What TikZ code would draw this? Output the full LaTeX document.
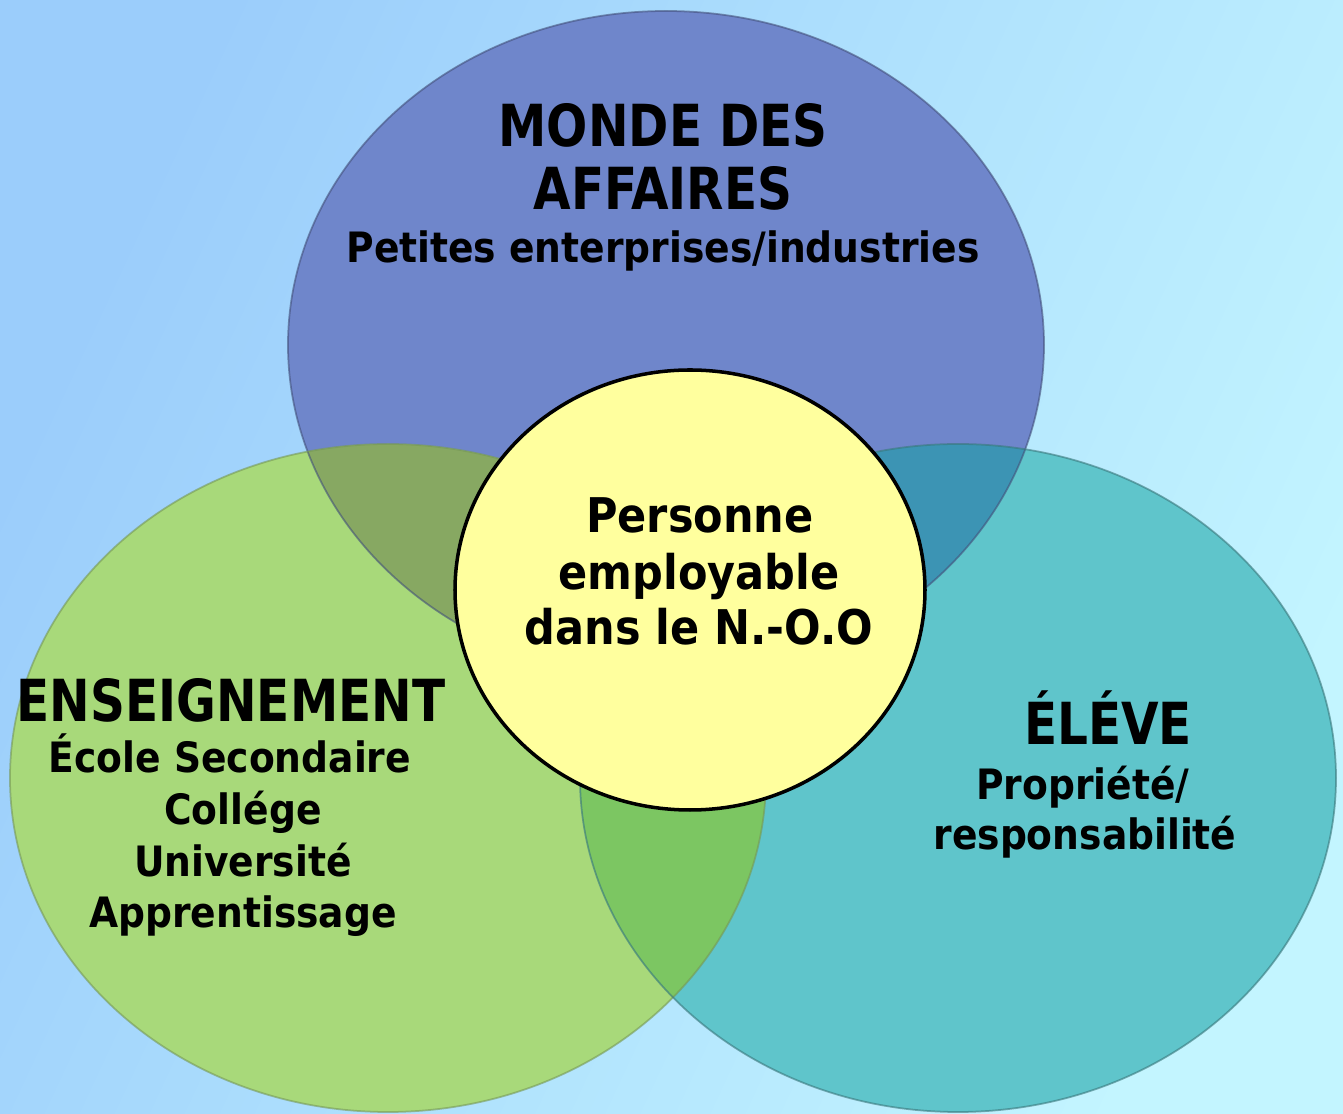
\documentclass[tikz,border=0pt]{standalone}
\usepackage{fontspec}
\newfontfamily\vennfont{DejaVuSansCondensed-Bold.ttf}
\newfontfamily\vennhead{DejaVuSansCondensed-Bold.ttf}[FakeStretch=0.93]

\definecolor{skyleft}{HTML}{9BCDFB}
\definecolor{skyright}{HTML}{C3F5FF}
\definecolor{affaires}{HTML}{6F86CB}
\definecolor{enseign}{HTML}{A8D97A}
\definecolor{eleve}{HTML}{5FC5CB}
\definecolor{affens}{HTML}{87A862}
\definecolor{enselev}{HTML}{7CC662}
\definecolor{affelev}{HTML}{3C94B4}
\definecolor{personne}{HTML}{FFFF9E}

\tikzset{
  head/.style={font=\vennhead\fontsize{16.5}{18}\selectfont, anchor=base, inner sep=0pt},
  sub/.style={font=\vennfont\fontsize{11.9}{13}\selectfont, anchor=base, inner sep=0pt},
  core/.style={font=\vennfont\fontsize{13.6}{16}\selectfont, anchor=base, inner sep=0pt},
  rim/.style={line width=0.5pt, opacity=0.6}
}

\def\affset{(666,345) ellipse [x radius=378, y radius=334]}
\def\ensset{(388,778) ellipse [x radius=378, y radius=334]}
\def\eleset{(958,778) ellipse [x radius=378, y radius=334]}

\begin{document}
\begin{tikzpicture}[x=0.1mm,y=-0.1mm]
\useasboundingbox (0,0) rectangle (1343,1114);
\shade [top color=skyleft, bottom color=skyright, shading angle=65] (0,0) rectangle (1343,1114);

% the three sets
\fill [affaires] \affset;
\fill [enseign] \ensset;
\fill [eleve] \eleset;
\begin{scope}
  \clip \affset;
  \fill [affens] \ensset;
  \fill [affelev] \eleset;
\end{scope}
\begin{scope}
  \clip \ensset;
  \fill [enselev] \eleset;
\end{scope}
\draw [rim, affaires!60!black] \affset;
\draw [rim, enseign!70!black] \ensset;
\draw [rim, eleve!60!black] \eleset;

% centre
\draw [fill=personne, line width=1pt] (690,590) ellipse [x radius=235, y radius=220];

\node [head] (monde) at (663,147) {MONDE DES};
\node [head] (affaires) at (663,210) {AFFAIRES};
\node [sub] (petites) at (663,263) {Petites enterprises/industries};

\node [head] (ensg) at (231,722) {ENSEIGNEMENT};
\node [sub] (ecole) at (230,773) {École Secondaire};
\node [sub] (college) at (243,825) {Collége};
\node [sub] (univ) at (243,877) {Université};
\node [sub] (apprent) at (243,928) {Apprentissage};

\node [head] (eleve) at (1108,745) {ÉLÉVE};
\node [sub] (propriete) at (1083,800) {Propriété/};
\node [sub] (respons) at (1085,850) {responsabilité};

\node [core] (pers) at (700,533) {Personne};
\node [core] (employ) at (699,590) {employable};
\node [core] (nord) at (699,645) {dans le N.-O.O};
\end{tikzpicture}
\end{document}
